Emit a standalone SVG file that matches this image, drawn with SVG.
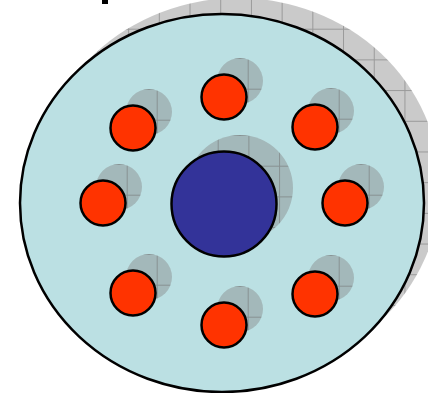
<svg xmlns="http://www.w3.org/2000/svg" width="428" height="393" viewBox="0 0 428 393">
  <style>
    .sh { stroke: none; }
    .outline { stroke: #000; stroke-width: 2.5; }
    .small { fill: #FF3300; }
    .core { fill: #333399; }
    .disc { fill: #BBE0E3; }
  </style>
  <defs>
    <g id="tile">
      <rect x="0" y="0" width="31" height="31" fill="#808080" fill-opacity="0.42"/>
      <path d="M0.5 0V31M0 0.5H31" stroke="#707070" stroke-opacity="0.55" stroke-width="1" fill="none"/>
    </g>
    <pattern id="patBig" patternUnits="objectBoundingBox" x="0" y="0" width="0.0760" height="0.0812">
      <use href="#tile"/>
    </pattern>
    <pattern id="patCore" patternUnits="objectBoundingBox" x="0" y="0" width="0.2896" height="0.2896">
      <use href="#tile"/>
    </pattern>
    <pattern id="patSmall" patternUnits="objectBoundingBox" x="0" y="0" width="0.6674" height="0.6674">
      <use href="#tile"/>
    </pattern>
  </defs>

  <rect x="102" y="0" width="6" height="4" fill="#000"/>

  <g id="disc">
    <ellipse class="sh" cx="238" cy="187" rx="202" ry="189" fill="url(#patBig)"/>
    <ellipse class="disc outline" cx="222" cy="203" rx="202" ry="189"/>
  </g>

  <g id="shadows">
    <circle class="sh" cx="240" cy="81" r="23" fill="url(#patSmall)"/>
    <circle class="sh" cx="149" cy="112" r="23" fill="url(#patSmall)"/>
    <circle class="sh" cx="331" cy="111" r="23" fill="url(#patSmall)"/>
    <circle class="sh" cx="119" cy="187" r="23" fill="url(#patSmall)"/>
    <circle class="sh" cx="361" cy="187" r="23" fill="url(#patSmall)"/>
    <circle class="sh" cx="149" cy="277" r="23" fill="url(#patSmall)"/>
    <circle class="sh" cx="331" cy="278" r="23" fill="url(#patSmall)"/>
    <circle class="sh" cx="240" cy="309" r="23" fill="url(#patSmall)"/>
    <circle class="sh" cx="240" cy="188" r="53" fill="url(#patCore)"/>
  </g>

  <g id="n-top"><circle class="small outline" cx="224" cy="97" r="22.5"/></g>
  <g id="n-upper-left"><circle class="small outline" cx="133" cy="128" r="22.5"/></g>
  <g id="n-upper-right"><circle class="small outline" cx="315" cy="127" r="22.5"/></g>
  <g id="n-left"><circle class="small outline" cx="103" cy="203" r="22.5"/></g>
  <g id="n-right"><circle class="small outline" cx="345" cy="203" r="22.5"/></g>
  <g id="n-lower-left"><circle class="small outline" cx="133" cy="293" r="22.5"/></g>
  <g id="n-lower-right"><circle class="small outline" cx="315" cy="294" r="22.5"/></g>
  <g id="n-bottom"><circle class="small outline" cx="224" cy="325" r="22.5"/></g>
  <g id="n-core"><circle class="core outline" cx="224" cy="204" r="52.5"/></g>

  <g id="connectors"></g>
</svg>
